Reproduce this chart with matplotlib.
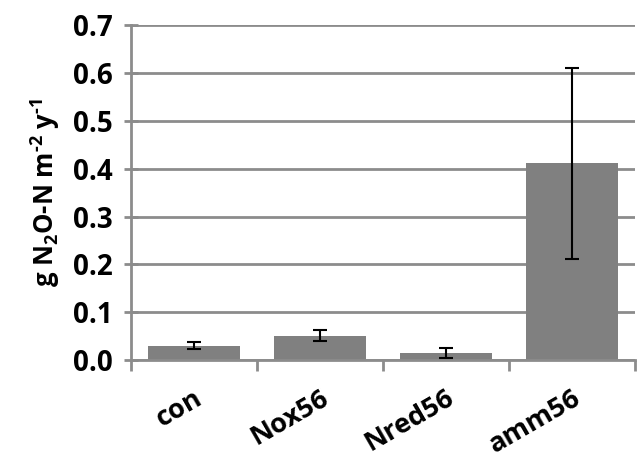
import numpy as np
import matplotlib.pyplot as plt

# data
kategorije = ['con', 'Nox56', 'Nred56', 'amm56']
vrednosti = [0.030, 0.051, 0.015, 0.411]
napake = [0.008, 0.012, 0.011, 0.200]

plt.rcParams['font.family'] = ['Open Sans', 'DejaVu Sans']
plt.rcParams['mathtext.fontset'] = 'custom'
plt.rcParams['mathtext.rm'] = 'Open Sans:bold'
plt.rcParams['mathtext.bf'] = 'Open Sans:bold'
plt.rcParams['mathtext.it'] = 'Open Sans:bold'
plt.rcParams['mathtext.default'] = 'bf'

fig = plt.figure(figsize=(6.37, 4.58), dpi=100)
ax = fig.add_axes([0.2057, 0.214, 0.7913, 0.731])

x = np.arange(len(kategorije))
ax.bar(x, vrednosti, width=0.73, color='#808080', zorder=2)
ax.errorbar(x, vrednosti, yerr=napake, fmt='none', ecolor='black',
            elinewidth=1.5, capsize=5, capthick=1.5, zorder=3)

ax.set_xlim(-0.5, 3.5)
ax.set_ylim(0, 0.7)
ax.set_yticks(np.arange(0, 0.71, 0.1))
ax.set_yticklabels(['%.1f' % v for v in np.arange(0, 0.71, 0.1)],
                   fontsize=20, fontweight='bold')
ax.yaxis.grid(True, color='#8c8c8c', linewidth=2, zorder=0)
ax.set_axisbelow(True)

ax.set_xticks(x)
ax.set_xticklabels(kategorije, rotation=30, ha='right', rotation_mode='anchor',
                   fontsize=19.5, fontweight='bold')
ax.tick_params(axis='x', which='major', length=0, pad=18)
ax.set_xticks(np.arange(-0.5, 3.6, 1), minor=True)
ax.tick_params(axis='x', which='minor', length=8, width=2, color='#8c8c8c')
ax.tick_params(axis='y', direction='inout', length=10, width=2,
               color='#8c8c8c', pad=8)

for s in ['top', 'right']:
    ax.spines[s].set_visible(False)
for s in ['left', 'bottom']:
    ax.spines[s].set_color('#8c8c8c')
    ax.spines[s].set_linewidth(2)

ax.set_ylabel(r'g N$_2$O-N m$^{\text{-}2}$ y$^{\text{-}1}$', fontsize=18.5,
              fontweight='bold', labelpad=8)

fig.savefig('out.png', dpi=100)
